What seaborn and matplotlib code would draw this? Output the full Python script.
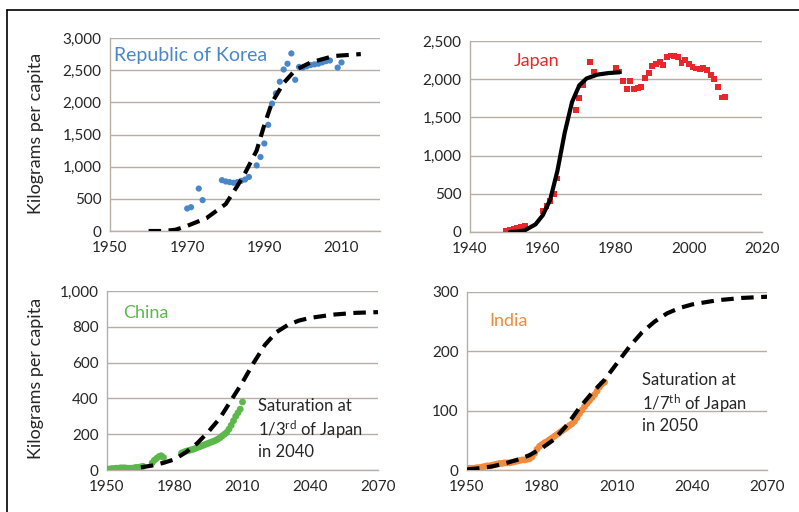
import numpy as np
import matplotlib
matplotlib.use("Agg")
import matplotlib.pyplot as plt
import matplotlib.ticker as mticker
from matplotlib.lines import Line2D
import seaborn as sns

# Republic of Korea - observed (dots) and fitted curve (dashed)
korea_years = [1970, 1971, 1973, 1974, 1979, 1980, 1981, 1982, 1983, 1984, 1985, 1986,
               1988, 1989, 1990, 1991, 1992, 1993, 1994, 1995, 1996, 1997, 1998, 1999,
               2000, 2001, 2002, 2003, 2004, 2005, 2006, 2007, 2009, 2010]
korea_vals = [350, 370, 660, 480, 790, 770, 760, 750, 760, 780, 800, 840,
              1020, 1150, 1360, 1650, 1980, 2140, 2320, 2510, 2600, 2760, 2350, 2550,
              2540, 2560, 2580, 2590, 2600, 2620, 2640, 2650, 2540, 2620]
korea_fit_years = [1960, 1964, 1967, 1970, 1975, 1980, 1983, 1985, 1988, 1990, 1992,
                   1995, 1998, 2002, 2008, 2015]
korea_fit_vals = [0, 0, 20, 80, 200, 420, 700, 900, 1250, 1650, 2000,
                  2300, 2500, 2620, 2720, 2750]

# Japan
japan_years = [1950, 1951, 1952, 1953, 1954, 1955, 1960, 1961, 1962, 1963, 1964,
               1969, 1970, 1971, 1973, 1974, 1980, 1981, 1982, 1983, 1984, 1985, 1986,
               1987, 1988, 1989, 1990, 1991, 1992, 1993, 1994, 1995, 1996, 1997, 1998,
               1999, 2000, 2001, 2002, 2003, 2004, 2005, 2006, 2007, 2008, 2009, 2010]
japan_vals = [10, 25, 40, 55, 70, 85, 270, 340, 400, 500, 700,
              1600, 1750, 1920, 2230, 2100, 2150, 2100, 1980, 1870, 1980, 1870, 1880,
              1900, 2020, 2080, 2170, 2200, 2230, 2190, 2290, 2310, 2300, 2290, 2210,
              2250, 2200, 2160, 2140, 2130, 2150, 2120, 2060, 2000, 1900, 1760, 1770]
japan_fit_years = [1951, 1953, 1955, 1958, 1960, 1962, 1964, 1966, 1968, 1970,
                   1972, 1975, 1978, 1981]
japan_fit_vals = [0, 5, 20, 100, 220, 420, 800, 1300, 1700, 1920,
                  2010, 2060, 2080, 2090]

# China
china_years = list(range(1950, 1967)) + [1970, 1971, 1972, 1973, 1974, 1975] + list(range(1983, 2011))
china_vals = [5, 5, 8, 8, 10, 10, 12, 12, 12, 10, 10, 10, 12, 15, 15, 18, 20,
              40, 55, 65, 75, 80, 70,
              95, 100, 105, 108, 112, 115, 120, 125, 130, 135, 140, 145, 150, 155,
              160, 165, 172, 180, 190, 200, 210, 228, 250, 275, 300, 320, 340, 380]
china_fit_years = [1965, 1970, 1975, 1980, 1985, 1990, 1995, 2000, 2005, 2010, 2015,
                   2020, 2025, 2030, 2035, 2040, 2050, 2060, 2070]
china_fit_vals = [15, 25, 40, 60, 100, 150, 215, 290, 390, 490, 600,
                  700, 770, 810, 835, 850, 868, 878, 882]

# India
india_years = list(range(1950, 2006))
india_vals = [2, 3, 3, 3, 4, 4, 5, 6, 7, 7, 8, 9, 10, 11, 11, 12, 12, 12, 13, 14,
              15, 16, 17, 17, 18, 19, 22, 28, 35, 40, 43, 46, 48, 51, 54, 57, 60, 63,
              66, 69, 72, 75, 78, 82, 88, 95, 101, 107, 112, 117, 122, 127, 133, 140,
              145, 148]
india_fit_years = [1950, 1955, 1960, 1965, 1970, 1975, 1980, 1985, 1990, 1995, 2000,
                   2005, 2010, 2015, 2020, 2025, 2030, 2035, 2040, 2050, 2060, 2070]
india_fit_vals = [1, 3, 6, 11, 17, 25, 37, 52, 76, 105, 130,
                  152, 180, 208, 232, 250, 264, 273, 279, 286, 290, 292]

sns.set_style("white")
plt.rcParams['font.family'] = ['Lato', 'DejaVu Sans']

grid_col = "#b9aea6"
dash = (0, (3, 1.8))

fig = plt.figure(figsize=(7.99, 5.12), dpi=100)
ax_kr = fig.add_axes([0.1377, 0.5488, 0.338, 0.377])
ax_jp = fig.add_axes([0.588, 0.5469, 0.3655, 0.3731])
ax_cn = fig.add_axes([0.1339, 0.082, 0.3392, 0.3496])
ax_in = fig.add_axes([0.5845, 0.082, 0.3755, 0.3477])


def style_axis(ax, xlim, xticks, ylim, ystep):
    ax.set_xlim(*xlim)
    ax.set_ylim(*ylim)
    ax.set_xticks(xticks)
    ax.set_yticks(np.arange(ylim[0], ylim[1] + 1, ystep))
    ax.yaxis.set_major_formatter(mticker.FuncFormatter(lambda v, p: f"{int(v):,}"))
    ax.grid(axis="y", color=grid_col, lw=1)
    ax.set_axisbelow(True)
    for s in ["top", "right"]:
        ax.spines[s].set_visible(False)
    for s in ["left", "bottom"]:
        ax.spines[s].set_color(grid_col)
        ax.spines[s].set_linewidth(1)
    ax.tick_params(axis="x", length=3, color=grid_col, labelsize=11, pad=4)
    ax.tick_params(axis="y", length=0, labelsize=11, pad=6)
    ax.set_xlabel("")
    ax.set_ylabel("")


# Korea
sns.scatterplot(x=korea_years, y=korea_vals, ax=ax_kr, color="#4a87c9", s=20,
                edgecolor="none", zorder=3)
sns.lineplot(x=korea_fit_years, y=korea_fit_vals, ax=ax_kr, color="black", lw=3,
             linestyle=dash, zorder=4)
style_axis(ax_kr, (1950, 2020), [1950, 1970, 1990, 2010], (0, 3000), 500)
ax_kr.text(1951, 2640, "Republic of Korea", color="#4a87c9", fontsize=14)

# Japan
sns.scatterplot(x=japan_years, y=japan_vals, ax=ax_jp, color="#e8262b", s=18,
                marker="s", edgecolor="none", zorder=3)
sns.lineplot(x=japan_fit_years, y=japan_fit_vals, ax=ax_jp, color="black", lw=3,
             zorder=4)
style_axis(ax_jp, (1940, 2020), [1940, 1960, 1980, 2000, 2020], (0, 2500), 500)
ax_jp.text(1952, 2170, "Japan", color="#e8262b", fontsize=13)

# China
sns.scatterplot(x=china_years, y=china_vals, ax=ax_cn, color="#5cb84a", s=24,
                edgecolor="none", zorder=3)
sns.lineplot(x=china_fit_years, y=china_fit_vals, ax=ax_cn, color="black", lw=3,
             linestyle=dash, zorder=4)
style_axis(ax_cn, (1950, 2070), [1950, 1980, 2010, 2040, 2070], (0, 1000), 200)
ax_cn.text(1957, 850, "China", color="#5cb84a", fontsize=13)
ax_cn.text(2017, 400, "Saturation at\n1/3$\\mathregular{^{rd}}$ of Japan\nin 2040",
           fontsize=12, va="top", linespacing=1.25)

# India
sns.scatterplot(x=india_years, y=india_vals, ax=ax_in, color="#f08a3c", s=24,
                edgecolor="none", zorder=3)
sns.lineplot(x=india_fit_years, y=india_fit_vals, ax=ax_in, color="black", lw=3,
             linestyle=dash, zorder=4)
style_axis(ax_in, (1950, 2070), [1950, 1980, 2010, 2040, 2070], (0, 300), 100)
ax_in.text(1959, 243, "India", color="#f08a3c", fontsize=13)
ax_in.text(2020, 165, "Saturation at\n1/7$\\mathregular{^{th}}$ of Japan\nin 2050",
           fontsize=12, va="top", linespacing=1.25)

fig.text(0.045, 0.74, "Kilograms per capita", rotation=90, fontsize=13,
         ha="center", va="center")
fig.text(0.045, 0.26, "Kilograms per capita", rotation=90, fontsize=13,
         ha="center", va="center")

# frame round the figure (top and left edges only are visible)
fig.add_artist(Line2D([0.009, 1.0], [0.981, 0.981], color="black", lw=1.2,
                      transform=fig.transFigure))
fig.add_artist(Line2D([0.009, 0.009], [0.0, 0.981], color="black", lw=1.2,
                      transform=fig.transFigure))

fig.savefig("out.png", dpi=100)
